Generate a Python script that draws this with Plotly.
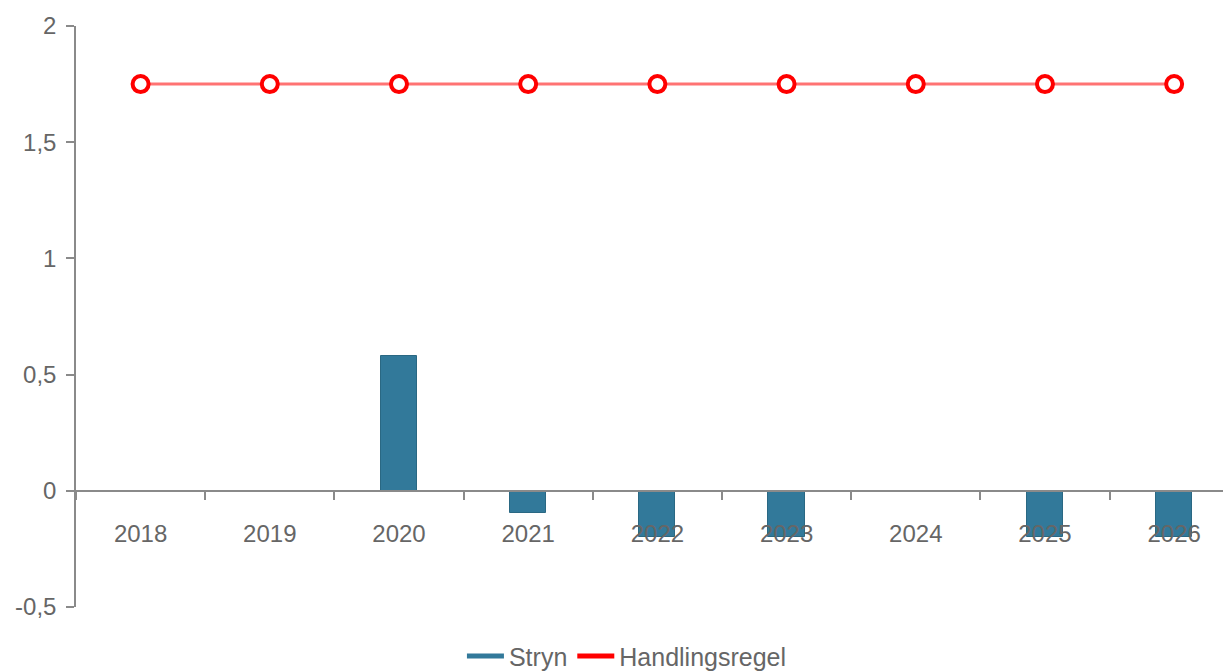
import plotly.graph_objects as go

years = ["2018", "2019", "2020", "2021", "2022", "2023", "2024", "2025", "2026"]
stryn = [0, 0, 0.58, -0.095, -0.2, -0.2, 0, -0.2, -0.2]
handlingsregel = [1.75, 1.75, 1.75, 1.75, 1.75, 1.75, 1.75, 1.75, 1.75]
y_ticks = [-0.5, 0, 0.5, 1, 1.5, 2]
y_tick_labels = ["-0,5", "0", "0,5", "1", "1,5", "2"]

bar_color = "#32799a"
font_family = "Liberation Sans, Arial, sans-serif"
text_color = "#666666"
axis_color = "#8a8a8a"
fs = 24

fig = go.Figure()
fig.add_trace(go.Bar(
    x=years, y=stryn, name="Stryn", width=0.28,
    marker=dict(color=bar_color, line=dict(color="#2a6883", width=1)),
    showlegend=False, legendgroup="s",
))
fig.add_trace(go.Scatter(
    x=years, y=handlingsregel, name="Handlingsregel", mode="lines+markers",
    line=dict(color="rgba(255,0,0,0.55)", width=3),
    marker=dict(symbol="circle", size=16, color="white",
                line=dict(color="#ff0000", width=4)),
    showlegend=False, legendgroup="h",
))
# legend entries drawn as line swatches
fig.add_trace(go.Scatter(
    x=[years[0]], y=[None], name="Stryn", mode="lines",
    line=dict(color=bar_color, width=5), legendgroup="s",
))
fig.add_trace(go.Scatter(
    x=[years[0]], y=[None], name="Handlingsregel", mode="lines",
    line=dict(color="#ff0000", width=5), legendgroup="h",
))

fig.update_layout(
    width=1223, height=663,
    margin=dict(l=68, r=0, t=18, b=64, autoexpand=False),
    paper_bgcolor="white", plot_bgcolor="white",
    separators=", ",
    font=dict(family=font_family, size=fs, color=text_color),
    bargap=0,
    legend=dict(orientation="h", x=0.477, xanchor="center", y=-0.045, yanchor="top",
                font=dict(size=25, color=text_color), itemwidth=37,
                tracegroupgap=0),
)
fig.update_xaxes(
    type="category", categoryorder="array", categoryarray=years,
    range=[-0.5, 8.44],
    anchor="free", position=0.2,
    showline=True, linecolor=axis_color, linewidth=1.5,
    ticks="outside", ticklen=8, tickwidth=1.5, tickcolor=axis_color,
    tickson="boundaries", ticklabelstandoff=22,
    showgrid=False, zeroline=False,
    tickfont=dict(size=fs, color=text_color),
)
fig.update_yaxes(
    range=[-0.5, 2], tickvals=y_ticks, ticktext=y_tick_labels,
    showline=True, linecolor=axis_color, linewidth=1.5,
    ticks="outside", ticklen=8, tickwidth=1.5, tickcolor=axis_color,
    ticklabelstandoff=5,
    showgrid=False, zeroline=False,
    tickfont=dict(size=fs, color=text_color),
)

fig.write_html("out.html")
